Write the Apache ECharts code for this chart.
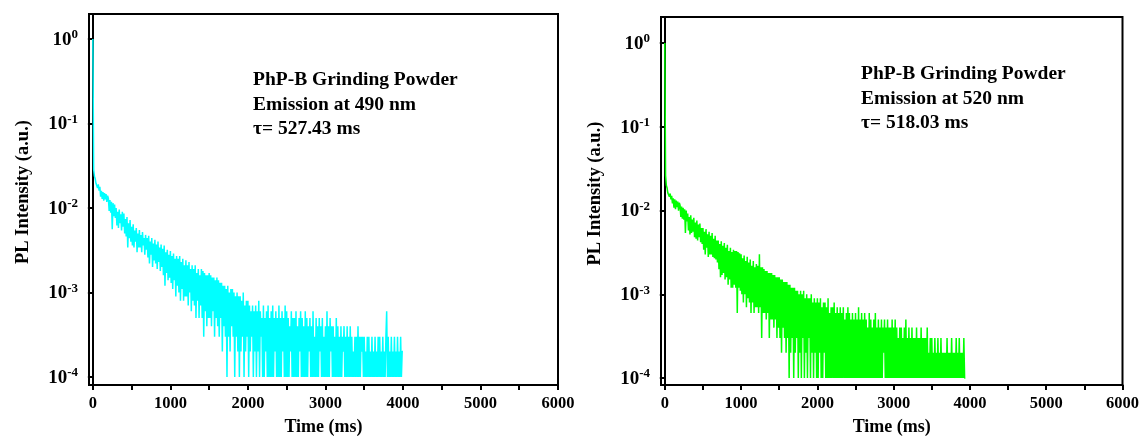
<!DOCTYPE html>
<html>
<head>
<meta charset="utf-8">
<script src="https://cdn.jsdelivr.net/npm/echarts@6/dist/echarts.min.js"></script>
<style>
html,body{margin:0;padding:0;background:#fff;}
#chart{width:1142px;height:441px;}
</style>
</head>
<body>
<div id="chart"></div>
<script>
// Sampling step of the decay traces (ms)
const STEP_MS = 10;

// Detector counts (t = 0, 10, 20, ... ms), peak = 10000
const counts490 = [
10000,285,238,222,196,204,172,190,160,178,
136,160,128,154,122,150,126,146,118,140,
130,92,124,88,118,56,114,80,110,76,
100,62,90,58,96,66,84,54,90,60,
86,50,74,46,78,34,66,44,72,40,
60,36,64,34,54,40,58,30,50,34,
55,34,48,30,52,36,44,28,48,32,
44,26,47,22,40,28,44,20,38,24,
42,22,37,19,40,23,34,18,37,20,
33,16,36,12,30,17,32,14,28,15,
31,13,27,11,29,14,25,9,27,12,
25,10,27,8,23,11,25,8,21,9,
24,9,21,7,23,10,19,6,21,8,
19,7,21,5,17,8,19,5,16,7,
19,5,18,3,17,6,16,4,16,5,
17,5,16,4,15,6,15,3,14,5,
15,4,14,3,13,5,13,2,12,4,
12,3,11,1,12,3,10,2,11,4,
11,3,10,1,9,3,10,2,9,1,
9,2,8,3,10,1,7,2,8,3,
8,1,7,2,6,3,7,1,6,2,
7,1,6,2,8,1,6,3,5,1,
7,1,5,2,6,1,7,1,5,1,
6,1,7,1,5,2,6,1,5,1,
7,1,5,1,6,2,5,1,7,1,
6,1,5,1,4,2,6,1,5,1,
5,1,6,1,4,1,5,2,6,1,
5,1,4,1,6,1,5,1,4,2,
5,1,4,1,6,1,3,1,5,1,
4,1,5,2,4,1,5,1,3,1,
4,1,6,1,4,1,5,2,4,1,
4,1,3,1,5,1,4,1,3,1,
4,1,3,2,4,1,3,1,4,1,
3,1,4,1,3,1,2,1,3,1,
3,1,4,1,3,1,3,2,3,1,
3,1,2,1,3,1,3,1,2,1,
3,1,2,1,3,1,2,1,3,1,
3,1,2,1,3,1,2,1,3,6,
1,3,1,2,1,3,1,2,1,3,
1,2,1,3,1,2,1,3,1,2,
2
];

// Detector counts (t = 0, 10, 20, ... ms), peak = 10000
const counts520 = [
10000,262,200,186,162,170,146,160,136,150,
122,140,108,136,104,132,110,128,100,124,
116,84,112,80,108,78,104,54,100,74,
92,58,84,52,88,54,78,56,82,48,
72,46,76,44,68,48,70,42,62,40,
62,34,56,30,60,36,52,28,56,30,
50,30,54,28,46,27,50,26,44,24,
44,20,40,16,43,17,38,18,41,15,
36,16,39,13,33,15,36,12,32,12,
34,13,33,12,33,6,32,12,31,11,
30,10,27,8,29,10,25,7,28,9,
24,8,26,6,22,8,25,6,21,7,
23,7,22,6,30,7,21,3,21,6,
20,6,19,5,19,6,18,3,18,5,
18,5,17,4,17,5,16,3,16,4,
16,3,15,2,15,4,14,3,14,2,
14,3,13,1,13,2,12,3,12,1,
12,2,11,3,11,1,10,2,11,1,
10,3,11,1,9,2,10,1,9,3,
9,1,10,2,8,1,9,2,8,1,
9,1,8,2,9,1,7,1,8,2,
8,1,7,1,9,1,6,1,7,1,
7,1,8,1,6,1,7,1,6,1,
7,1,6,1,7,1,5,1,6,1,
7,1,6,1,5,1,6,1,5,1,
6,1,5,1,7,1,5,1,6,1,
5,1,6,1,5,1,4,1,6,1,
5,1,4,1,5,1,6,1,4,1,
5,1,4,1,5,1,4,2,5,1,
4,1,5,1,4,1,4,1,5,1,
4,1,5,1,4,1,3,1,4,1,
4,1,3,1,4,1,5,1,3,1,
4,1,3,1,4,1,3,1,3,1,
4,1,3,1,3,1,4,1,3,1,
3,1,3,1,4,1,2,1,3,1,
3,1,2,1,3,1,2,1,3,1,
2,1,3,1,2,1,2,1,2,1,
3,1,2,1,2,1,3,1,2,1,
2,1,3,1,2,1,3,1,2,1,
2,1,3,1,1
];

// Axis ticks / labels
const xTickLabels = [0, 1000, 2000, 3000, 4000, 5000, 6000];
const xTickMarks = [0, 500, 1000, 1500, 2000, 2500, 3000, 3500, 4000, 4500, 5000, 5500, 6000];
const yTickExponents = [-4, -3, -2, -1, 0];

// Annotations
const notes490 = ['PhP-B Grinding Powder', 'Emission at 490 nm', '\u03C4= 527.43 ms'];
const notes520 = ['PhP-B Grinding Powder', 'Emission at 520 nm', '\u03C4= 518.03 ms'];

const xName = 'Time (ms)';
const yName = 'PL Intensity (a.u.)';

function toSeries(counts) {
  const peak = counts[0];
  return counts.map((c, i) => [i * STEP_MS, c / peak]);
}

const FONT = '"Liberation Serif", "Times New Roman", serif';
const yTickValues = yTickExponents.map(e => Math.pow(10, e));

function makeX(gridIndex) {
  return {
    type: 'value', gridIndex, min: -50, max: 6000,
    name: xName, nameLocation: 'middle', nameGap: 33,
    nameTextStyle: {fontFamily: FONT, fontWeight: 'bold', fontSize: 18, color: '#000'},
    axisLine: {show: true, lineStyle: {color: '#000', width: 2}},
    axisTick: {show: true, inside: false, length: 5, customValues: xTickMarks, lineStyle: {color: '#000', width: 2}},
    axisLabel: {customValues: xTickLabels, margin: 10, fontFamily: FONT, fontWeight: 'bold', fontSize: 16.5, color: '#000',
      formatter: v => String(Math.round(v))},
    splitLine: {show: false}
  };
}
function makeY(gridIndex, min, max) {
  return {
    type: 'log', logBase: 10, gridIndex, min, max,
    name: yName, nameLocation: 'middle', nameGap: 56,
    nameTextStyle: {fontFamily: FONT, fontWeight: 'bold', fontSize: 18.5, color: '#000', padding: [0, 0, 0, 15]},
    axisLine: {show: true, lineStyle: {color: '#000', width: 2}},
    axisTick: {show: true, inside: false, length: 5, customValues: yTickValues, lineStyle: {color: '#000', width: 2}},
    axisLabel: {
      customValues: yTickValues, margin: 11,
      formatter: v => '{b|10}{s|' + Math.round(Math.log10(v)) + '}',
      rich: {
        b: {fontFamily: FONT, fontWeight: 'bold', fontSize: 19, color: '#000', verticalAlign: 'bottom'},
        s: {fontFamily: FONT, fontWeight: 'bold', fontSize: 13, color: '#000', verticalAlign: 'bottom', padding: [0, 0, 8, 0]}
      }
    },
    splitLine: {show: false}
  };
}

function noteText(lines, x, y) {
  return {
    type: 'text', x, y, silent: true,
    style: {
      text: lines.join('\n'), fill: '#000', fontFamily: FONT, fontWeight: 'bold',
      fontSize: 19.5, lineHeight: 24.5, verticalAlign: 'top', align: 'left'
    }
  };
}

const chart = echarts.init(document.getElementById('chart'), null, {renderer: 'canvas'});
chart.setOption({
  animation: false,
  backgroundColor: '#fff',
  grid: [
    {left: 89, top: 14, width: 469, height: 373, show: true, borderColor: '#000', borderWidth: 2, containLabel: false},
    {left: 661, top: 17, width: 462, height: 370, show: true, borderColor: '#000', borderWidth: 2, containLabel: false}
  ],
  xAxis: [makeX(0), makeX(1)],
  yAxis: [makeY(0, 8.05e-5, 1.97), makeY(1, 8.26e-5, 2.05)],
  series: [
    {type: 'line', xAxisIndex: 0, yAxisIndex: 0, data: toSeries(counts490), showSymbol: false, symbol: 'none',
     sampling: null, lineStyle: {color: '#00FFFF', width: 1.5}, itemStyle: {color: '#00FFFF'}, silent: true},
    {type: 'line', xAxisIndex: 1, yAxisIndex: 1, data: toSeries(counts520), showSymbol: false, symbol: 'none',
     sampling: null, lineStyle: {color: '#00FF00', width: 1.5}, itemStyle: {color: '#00FF00'}, silent: true}
  ],
  graphic: [noteText(notes490, 253, 68), noteText(notes520, 861, 62)]
});
</script>
</body>
</html>
